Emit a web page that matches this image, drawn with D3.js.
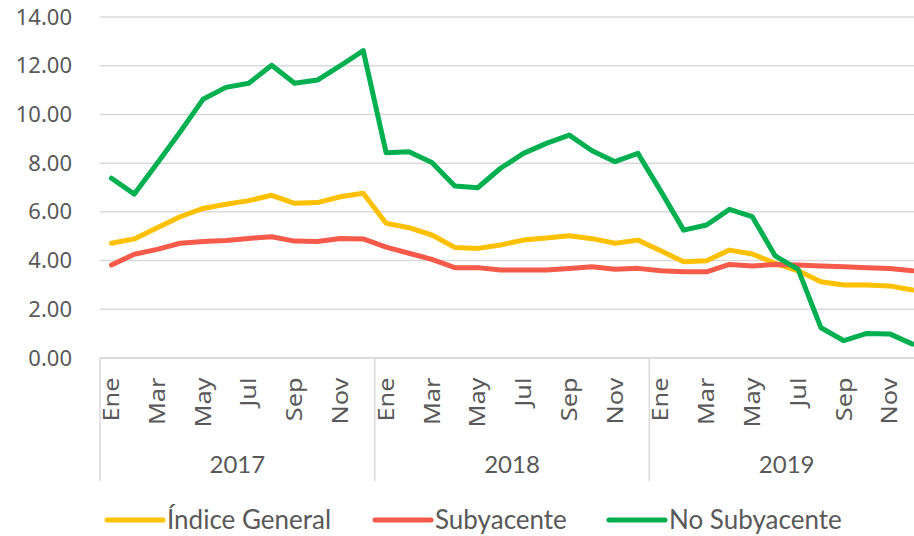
<!DOCTYPE html>
<html>
<head>
<meta charset="utf-8">
<script src="https://cdn.jsdelivr.net/npm/d3@7"></script>
<style>
  body { margin: 0; background: #fff; }
  svg { display: block; }
</style>
</head>
<body>
<div id="chart"></div>
<script>
// ---- data ----
const years = ["2017", "2018", "2019"];
const months = ["Ene", "Feb", "Mar", "Abr", "May", "Jun", "Jul", "Ago", "Sep", "Oct", "Nov", "Dic"];
const yTicks = [0, 2, 4, 6, 8, 10, 12, 14];

const indiceGeneral = [
  4.71, 4.89, 5.35, 5.80, 6.14, 6.31, 6.46, 6.68, 6.35, 6.38, 6.62, 6.76,
  5.53, 5.35, 5.05, 4.54, 4.50, 4.64, 4.84, 4.93, 5.02, 4.90, 4.71, 4.84,
  4.40, 3.95, 3.99, 4.43, 4.27, 3.89, 3.58, 3.13, 3.00, 3.00, 2.96, 2.79
];
const subyacente = [
  3.82, 4.26, 4.46, 4.71, 4.78, 4.82, 4.91, 4.98, 4.80, 4.78, 4.91, 4.89,
  4.55, 4.30, 4.05, 3.71, 3.71, 3.61, 3.61, 3.61, 3.67, 3.75, 3.64, 3.68,
  3.58, 3.54, 3.54, 3.84, 3.78, 3.84, 3.82, 3.78, 3.75, 3.71, 3.67, 3.58
];
const noSubyacente = [
  7.38, 6.73, 8.00, 9.28, 10.62, 11.11, 11.28, 12.02, 11.28, 11.41, 12.00, 12.62,
  8.43, 8.47, 8.03, 7.06, 6.99, 7.79, 8.40, 8.81, 9.15, 8.51, 8.06, 8.40,
  6.85, 5.25, 5.46, 6.10, 5.80, 4.19, 3.64, 1.24, 0.71, 1.01, 0.99, 0.57
];

const seriesNames = ["Índice General", "Subyacente", "No Subyacente"];
const seriesColors = ["#FFC000", "#F65A4B", "#00B050"];
const seriesValues = [indiceGeneral, subyacente, noSubyacente];

// ---- layout ----
const width = 914, height = 536;
const plotLeft = 100, plotRight = 924; // last year runs off the right edge
const plotTop = 17, plotBottom = 358;
const tickFont = "'Noto Sans', sans-serif";
const labelFont = "Lato, sans-serif";
const textColor = "#595959";
const gridColor = "#d9d9d9";

const keys = [];
years.forEach(y => months.forEach(m => keys.push(y + "-" + m)));

const x = d3.scaleBand().domain(keys).range([plotLeft, plotRight]).padding(0);
const xYear = d3.scaleBand().domain(years).range([plotLeft, plotRight]).padding(0);
const y = d3.scaleLinear().domain([0, 14]).range([plotBottom, plotTop]);

const svg = d3.select("#chart")
  .append("svg")
  .attr("width", width)
  .attr("height", height);

// gridlines
svg.append("g")
  .selectAll("line")
  .data(yTicks)
  .join("line")
  .attr("x1", plotLeft)
  .attr("x2", width)
  .attr("y1", d => y(d))
  .attr("y2", d => y(d))
  .attr("stroke", gridColor)
  .attr("stroke-width", 1.5);

// y axis labels
const yAxis = d3.axisLeft(y)
  .tickValues(yTicks)
  .tickFormat(d3.format(".2f"))
  .tickSize(0)
  .tickPadding(28);

svg.append("g")
  .attr("transform", `translate(${plotLeft},0)`)
  .call(yAxis)
  .call(g => g.select(".domain").remove())
  .call(g => g.selectAll("text")
    .attr("fill", textColor)
    .style("font-family", tickFont)
    .style("font-size", "22px"));

// x axis: month labels (every other month), rotated and slightly stretched
const xAxis = d3.axisBottom(x)
  .tickValues(keys.filter((k, i) => i % 2 === 0))
  .tickFormat(k => k.split("-")[1])
  .tickSize(0);

svg.append("g")
  .attr("transform", `translate(0,${plotBottom})`)
  .call(xAxis)
  .call(g => g.select(".domain")
    .attr("d", `M${plotLeft},0H${width}`)
    .attr("stroke", gridColor)
    .attr("stroke-width", 1.5))
  .call(g => g.selectAll(".tick text")
    .attr("transform", "rotate(-90) scale(1.15,1)")
    .attr("x", -17)
    .attr("y", 0)
    .attr("dy", "0.35em")
    .attr("text-anchor", "end")
    .attr("fill", textColor)
    .style("font-family", tickFont)
    .style("font-size", "22px"));

// year separators
svg.append("g")
  .selectAll("line")
  .data(years)
  .join("line")
  .attr("x1", d => xYear(d))
  .attr("x2", d => xYear(d))
  .attr("y1", plotBottom)
  .attr("y2", 481)
  .attr("stroke", gridColor)
  .attr("stroke-width", 1.5);

// year labels
svg.append("g")
  .selectAll("text")
  .data(years)
  .join("text")
  .attr("x", d => xYear(d) + xYear.bandwidth() / 2)
  .attr("y", 473)
  .attr("text-anchor", "middle")
  .attr("fill", textColor)
  .style("font-family", labelFont)
  .style("font-size", "24px")
  .text(d => d);

// lines
const line = d3.line()
  .x((d, i) => x(keys[i]) + x.bandwidth() / 2)
  .y(d => y(d));

svg.append("g")
  .selectAll("path")
  .data(seriesValues)
  .join("path")
  .attr("fill", "none")
  .attr("stroke", (d, i) => seriesColors[i])
  .attr("stroke-width", 5)
  .attr("stroke-linejoin", "round")
  .attr("stroke-linecap", "round")
  .attr("d", line);

// legend
const legendX = [107, 375, 609];
const legend = svg.append("g")
  .selectAll("g")
  .data(seriesNames)
  .join("g")
  .attr("transform", (d, i) => `translate(${legendX[i]},520)`);

legend.append("line")
  .attr("x1", 0)
  .attr("x2", 56)
  .attr("stroke", (d, i) => seriesColors[i])
  .attr("stroke-width", 5)
  .attr("stroke-linecap", "round");

legend.append("text")
  .attr("x", 60)
  .attr("y", 9)
  .attr("fill", textColor)
  .style("font-family", labelFont)
  .style("font-size", "26px")
  .text(d => d);
</script>
</body>
</html>
